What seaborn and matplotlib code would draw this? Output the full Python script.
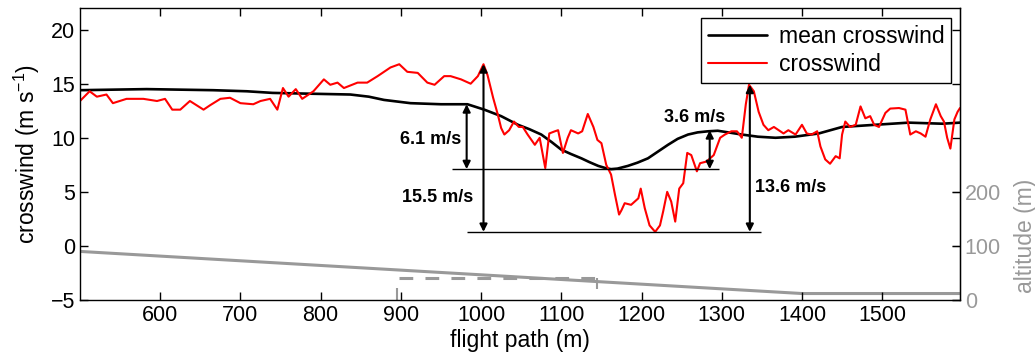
import numpy as np
import pandas as pd
import matplotlib
matplotlib.use("Agg")
import matplotlib.pyplot as plt
import seaborn as sns

# ---------------- data ----------------
cw_x = [500, 512, 521, 533, 541, 558, 579, 596, 606, 615, 625, 637, 654, 662, 675, 687,
        700, 716, 725, 737, 746, 753, 760, 769, 777, 791, 804, 812, 821, 829, 846, 858,
        871, 887, 898, 908, 921, 933, 942, 954, 962, 975, 987, 996, 1003, 1008, 1015,
        1021, 1025, 1029, 1035, 1041, 1047, 1052, 1058, 1067, 1073, 1080, 1085, 1092,
        1096, 1102, 1108, 1112, 1121, 1126, 1133, 1140, 1145, 1150, 1156, 1162, 1167,
        1172, 1175, 1179, 1187, 1196, 1199, 1204, 1210, 1217, 1223, 1227, 1232, 1237,
        1242, 1247, 1252, 1257, 1262, 1269, 1273, 1281, 1290, 1298, 1304, 1312, 1319,
        1325, 1330, 1334, 1340, 1346, 1352, 1358, 1365, 1371, 1377, 1383, 1392, 1400,
        1406, 1412, 1419, 1423, 1429, 1435, 1442, 1447, 1450, 1454, 1460, 1467, 1473,
        1479, 1485, 1490, 1496, 1504, 1510, 1521, 1529, 1535, 1542, 1548, 1554, 1560,
        1567, 1573, 1577, 1581, 1585, 1590, 1594, 1597]
cw_y = [13.4, 14.3, 13.8, 14.0, 13.2, 13.6, 13.6, 13.4, 13.6, 12.6, 12.6, 13.4, 12.6, 13.0,
        13.6, 13.7, 13.2, 13.1, 13.4, 13.6, 12.6, 14.6, 13.8, 14.5, 13.6, 14.3, 15.4, 14.9,
        15.1, 14.6, 15.1, 15.1, 15.7, 16.5, 16.8, 16.1, 16.0, 15.1, 14.9, 15.7, 15.7, 15.4,
        15.0, 15.7, 16.8, 15.8, 13.7, 12.1, 10.9, 10.3, 10.7, 11.5, 11.0, 11.0, 10.3, 9.35,
        10.0, 7.2, 10.4, 10.6, 10.7, 8.6, 10.0, 10.7, 10.4, 10.6, 12.2, 11.0, 9.8, 9.5, 7.5,
        6.6, 4.7, 2.9, 3.3, 3.95, 3.8, 4.4, 5.3, 3.5, 1.9, 1.3, 1.9, 3.2, 5.0, 4.1, 2.25,
        5.3, 5.8, 8.6, 8.4, 6.9, 7.65, 7.8, 8.4, 10.0, 10.3, 10.6, 10.6, 10.0, 13.1, 14.9,
        14.3, 12.4, 11.2, 10.7, 11.0, 10.7, 10.4, 10.7, 10.3, 11.2, 10.4, 10.3, 10.6, 9.2,
        8.0, 7.6, 8.3, 8.1, 10.3, 11.5, 11.0, 11.2, 12.9, 11.8, 12.0, 11.2, 11.0, 12.3,
        12.7, 12.75, 12.6, 10.3, 10.6, 10.4, 10.1, 11.7, 13.1, 12.0, 11.5, 10.0, 9.0, 11.7,
        12.4, 12.75]

mean_x = [500, 583, 666, 708, 740, 771, 837, 860, 879, 912, 950, 983, 1004, 1025, 1046,
          1060, 1075, 1088, 1100, 1112, 1125, 1135, 1146, 1155, 1162, 1170, 1183, 1195,
          1208, 1220, 1233, 1245, 1258, 1270, 1283, 1295, 1308, 1325, 1345, 1367, 1391,
          1421, 1450, 1491, 1533, 1575, 1597]
mean_y = [14.4, 14.5, 14.4, 14.3, 14.15, 14.1, 14.0, 13.8, 13.5, 13.2, 13.1, 13.1, 12.6,
          12.0, 11.2, 10.8, 10.3, 9.6, 8.9, 8.5, 8.1, 7.75, 7.4, 7.2, 7.1, 7.15, 7.4, 7.7,
          8.1, 8.7, 9.35, 9.9, 10.3, 10.5, 10.6, 10.65, 10.5, 10.3, 10.1, 10.0, 10.1,
          10.4, 11.0, 11.2, 11.4, 11.3, 11.4]

alt_x = [500, 1400, 1597]
alt_y = [90, 12, 12]

alt2_x = [898, 1145]
alt2_y = [41, 41]

# annotation values
arrow_x = [982, 1003, 1285, 1335]
arrow_lo = [7.1, 1.3, 7.1, 1.3]
arrow_hi = [13.1, 16.8, 10.7, 14.9]
arrow_lbl = ["6.1 m/s", "15.5 m/s", "3.6 m/s", "13.6 m/s"]
ref_levels = [7.1, 1.3]
ref_start = [964, 982]
ref_end = [1296, 1349]

# ---------------- style ----------------
sns.set_style("white")
plt.rcParams["font.family"] = ["Liberation Sans", "DejaVu Sans"]
plt.rcParams["mathtext.fontset"] = "custom"
plt.rcParams["mathtext.rm"] = "Liberation Sans"
plt.rcParams["mathtext.it"] = "Liberation Sans:italic"
plt.rcParams["axes.unicode_minus"] = True
plt.rcParams["text.color"] = "black"
plt.rcParams["axes.labelcolor"] = "black"
plt.rcParams["xtick.color"] = "black"
plt.rcParams["ytick.color"] = "black"

GRAY = "#999999"
fig = plt.figure(figsize=(10.35, 3.6), dpi=100)
ax = fig.add_axes([80 / 1035, 60 / 360, 880 / 1035, 292 / 360])
ax2 = ax.twinx()

df_cw = pd.DataFrame({"x": cw_x, "y": cw_y})
df_mean = pd.DataFrame({"x": mean_x, "y": mean_y})
df_alt = pd.DataFrame({"x": alt_x, "y": alt_y})
df_alt2 = pd.DataFrame({"x": alt2_x, "y": alt2_y})

sns.lineplot(data=df_mean, x="x", y="y", ax=ax, color="black", lw=1.9,
             label="mean crosswind", sort=False)
sns.lineplot(data=df_cw, x="x", y="y", ax=ax, color="red", lw=1.5,
             label="crosswind", sort=False)

sns.lineplot(data=df_alt, x="x", y="y", ax=ax2, color=GRAY, lw=2.2, legend=False)
sns.lineplot(data=df_alt2, x="x", y="y", ax=ax2, color=GRAY, lw=2.2, legend=False,
             linestyle=(0, (4.5, 4.0)))
ax2.vlines([alt2_x[0] - 3], 0, 22, color=GRAY, lw=1.5)
ax2.vlines([alt2_x[1]], 20, alt2_y[1], color=GRAY, lw=1.5)

# reference lines and arrows
for lvl, s, e in zip(ref_levels, ref_start, ref_end):
    ax.hlines(lvl, s, e, color="black", lw=1.0)
for xa, lo, hi in zip(arrow_x, arrow_lo, arrow_hi):
    ax.annotate("", xy=(xa, lo), xytext=(xa, hi),
                arrowprops=dict(arrowstyle="<|-|>", color="black", lw=1.5,
                                shrinkA=0, shrinkB=0, mutation_scale=11))

tk = dict(fontsize=13, fontweight="bold", va="center", color="black")
ax.text(975, 9.8, arrow_lbl[0], ha="right", **tk)
ax.text(990, 4.5, arrow_lbl[1], ha="right", **tk)
ax.text(1266, 11.85, arrow_lbl[2], ha="center", **tk)
ax.text(1341, 5.4, arrow_lbl[3], ha="left", **tk)

# axes
ax.set_xlim(500, 1597)
ax.set_ylim(-5, 22)
ax.set_xticks(range(600, 1501, 100))
ax.set_yticks(range(-5, 21, 5))
ax.set_xlabel("flight path (m)", fontsize=16.5, labelpad=2, color="black")
ax.set_ylabel(r"crosswind (m s$^{-1}$)", fontsize=16.5, labelpad=6, color="black")
ax.tick_params(axis="both", direction="in", length=6, width=1, labelsize=15.5,
               bottom=True, left=True, top=True, right=True, colors="black")
for sp in ax.spines.values():
    sp.set_color("black")
    sp.set_linewidth(1.0)

ax2.set_ylim(0, 541)
ax2.set_yticks([0, 100, 200])
ax2.set_ylabel("altitude (m)", fontsize=16.5, color=GRAY)
ax2.yaxis.set_label_coords(1.061, 0.22)
ax2.tick_params(axis="y", direction="in", length=6, width=1, labelsize=15.5,
                colors=GRAY, right=True)
for name, sp in ax2.spines.items():
    sp.set_visible(name == "right")
ax2.spines["right"].set_color(GRAY)
ax2.spines["right"].set_linewidth(1.0)

leg = ax.legend(loc="upper right", bbox_to_anchor=(0.99, 0.966), fontsize=16.5,
                frameon=True, fancybox=False, framealpha=1, edgecolor="black",
                handlelength=2.6, borderpad=0.3, labelspacing=0.22, handletextpad=0.5,
                borderaxespad=0)
leg.get_frame().set_linewidth(1.0)
for t in leg.get_texts():
    t.set_color("black")
ax.set_zorder(ax2.get_zorder() + 1)
ax.patch.set_visible(False)

fig.savefig("out.png", dpi=100)
